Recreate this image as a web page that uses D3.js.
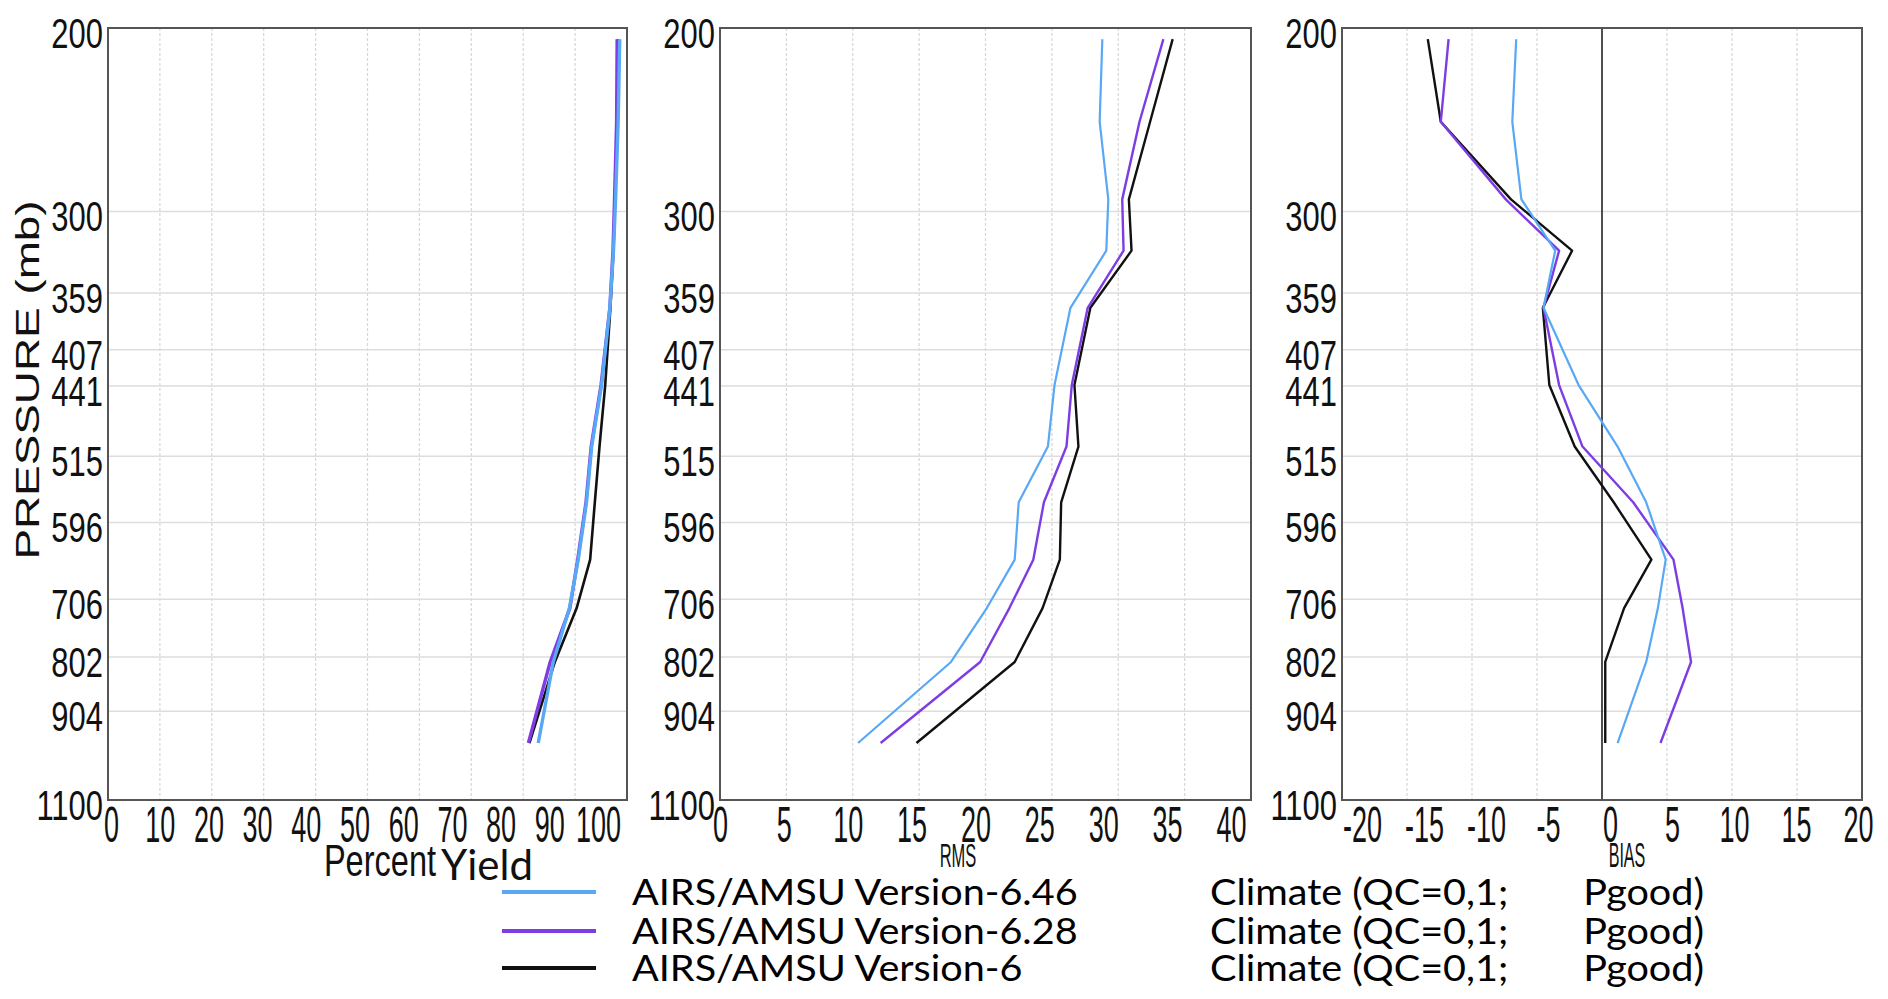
<!DOCTYPE html>
<html>
<head>
<meta charset="utf-8">
<script src="https://cdn.jsdelivr.net/npm/d3@7/dist/d3.min.js"></script>
<style>
  html, body { margin: 0; padding: 0; background: #fff; }
  svg { display: block; }
  .pre { white-space: pre; }
</style>
</head>
<body>
<script>
// ---------------- DATA ----------------
const levels = [205, 246, 292, 327, 371, 440, 504, 570, 647, 720, 811, 970];
const pressureTicks = [200, 300, 359, 407, 441, 515, 596, 706, 802, 904, 1100];

const seriesNames = ["AIRS/AMSU Version-6.46", "AIRS/AMSU Version-6.28", "AIRS/AMSU Version-6"];
const seriesQualA = "Climate (QC=0,1;   ";
const seriesQualB = "Pgood)";
const seriesColors = ["#58a8f6", "#7d3de2", "#111111"];

const yieldV646 = [98.6, 98.3, 97.8, 97.4, 96.7, 95.1, 93.2, 92.2, 90.6, 88.9, 85.8, 82.9];
const yieldV628 = [98.1, 98.0, 97.6, 97.3, 96.7, 95.0, 93.1, 92.1, 90.5, 89.0, 85.2, 81.0];
const yieldV6   = [98.3, 98.1, 97.7, 97.4, 96.8, 95.8, 94.7, 93.8, 92.9, 90.3, 86.1, 81.2];

const rmsV646 = [28.8, 28.6, 29.25, 29.1, 26.4, 25.2, 24.7, 22.5, 22.2, 20.1, 17.4, 10.4];
const rmsV628 = [33.4, 31.6, 30.3, 30.4, 27.7, 26.5, 26.1, 24.4, 23.6, 21.8, 19.6, 12.1];
const rmsV6   = [34.1, 32.4, 30.8, 31.0, 27.9, 26.7, 27.0, 25.7, 25.6, 24.3, 22.2, 14.8];

const biasV646 = [-6.6, -6.9, -6.2, -3.6, -4.5, -1.8, 1.2, 3.4, 4.9, 4.3, 3.4, 1.2];
const biasV628 = [-11.8, -12.4, -7.4, -3.3, -4.5, -3.3, -1.5, 2.4, 5.5, 6.2, 6.85, 4.5];
const biasV6   = [-13.4, -12.4, -7.0, -2.3, -4.55, -4.05, -2.1, 0.9, 3.8, 1.7, 0.25, 0.25];

const yieldTicks = [0, 10, 20, 30, 40, 50, 60, 70, 80, 90, 100];
const rmsTicks = [0, 5, 10, 15, 20, 25, 30, 35, 40];
const biasTicks = [-20, -15, -10, -5, 0, 5, 10, 15, 20];

// ---------------- LAYOUT ----------------
const W = 1888, H = 999;
const TOP = 28, BOTTOM = 800;
const chartFont = "'Liberation Sans', Arial, Helvetica, sans-serif";
const legendFont = "Lato, 'Open Sans', sans-serif";

const svg = d3.select("body").append("svg").attr("width", W).attr("height", H);
svg.append("rect").attr("width", W).attr("height", H).attr("fill", "#fff");

const y = d3.scaleLog().domain([200, 1100]).range([TOP, BOTTOM]);

const panels = [
  { x0: 108, x1: 627, lab: [111, 598], domain: [0, 100], ticks: yieldTicks, series: [yieldV6, yieldV628, yieldV646], widths: [2.6, 3.4, 3.4] },
  { x0: 720, x1: 1251, lab: [720, 1231], domain: [0, 40], ticks: rmsTicks, series: [rmsV6, rmsV628, rmsV646], widths: [2.4, 2.4, 2.2] },
  { x0: 1342, x1: 1862, lab: [1362, 1858], domain: [-20, 20], ticks: biasTicks, series: [biasV6, biasV628, biasV646], widths: [2.4, 2.4, 2.2], zero: true }
];
// series order in panel arrays: black, purple, blue  -> colors index
const colorOrder = [2, 1, 0];

function stext(g, x, yy, str, size, sx, anchor, family) {
  return g.append("text")
    .attr("transform", `translate(${x},${yy}) scale(${sx},1)`)
    .attr("text-anchor", anchor)
    .style("font-family", family)
    .style("font-size", size + "px")
    .attr("fill", "#111")
    .text(str);
}

panels.forEach((p) => {
  const x = d3.scaleLinear().domain(p.domain).range([p.x0, p.x1]);
  const xLab = d3.scaleLinear().domain(p.domain).range(p.lab);
  const g = svg.append("g");

  // vertical gridlines (dotted)
  g.selectAll(".vg").data(p.ticks.filter(t => t !== p.domain[0] && t !== p.domain[1] && !(p.zero && t === 0)))
    .join("line")
    .attr("x1", d => x(d)).attr("x2", d => x(d))
    .attr("y1", TOP).attr("y2", BOTTOM)
    .attr("stroke", "#d6d6d6").attr("stroke-width", 1.2).attr("stroke-dasharray", "3,2");

  // horizontal gridlines
  g.selectAll(".hg").data(pressureTicks.slice(1, -1))
    .join("line")
    .attr("x1", p.x0).attr("x2", p.x1)
    .attr("y1", d => y(d)).attr("y2", d => y(d))
    .attr("stroke", "#dddddd").attr("stroke-width", 1.5);

  if (p.zero) {
    g.append("line")
      .attr("x1", x(0)).attr("x2", x(0)).attr("y1", TOP).attr("y2", BOTTOM)
      .attr("stroke", "#222").attr("stroke-width", 1.6);
  }

  // lines
  const line = d3.line().x(d => x(d[0])).y(d => y(d[1]));
  p.series.forEach((vals, si) => {
    g.append("path")
      .datum(vals.map((v, i) => [v, levels[i]]))
      .attr("d", line)
      .attr("fill", "none")
      .attr("stroke", seriesColors[colorOrder[si]])
      .attr("stroke-width", p.widths[si])
      .attr("stroke-linejoin", "round");
  });

  // frame
  g.append("rect")
    .attr("x", p.x0).attr("y", TOP)
    .attr("width", p.x1 - p.x0).attr("height", BOTTOM - TOP)
    .attr("fill", "none").attr("stroke", "#555").attr("stroke-width", 2);

  // y axis (pressure labels)
  const yAxis = d3.axisLeft(y).tickValues(pressureTicks).tickFormat(d => String(d)).tickSize(0).tickPadding(0);
  const ya = svg.append("g").attr("transform", `translate(${p.x0},0)`).call(yAxis);
  ya.select(".domain").remove();
  ya.selectAll("text")
    .style("font-family", chartFont).style("font-size", "43px").attr("fill", "#111")
    .attr("x", null).attr("dy", "0.45em")
    .attr("transform", "translate(-5,0) scale(0.72,1)");

  // x axis (labels placed on a slightly compressed label scale, as in the original)
  const xAxis = d3.axisBottom(x).tickValues(p.ticks).tickFormat(d => String(d)).tickSize(0).tickPadding(6);
  const xa = svg.append("g").attr("transform", `translate(0,${BOTTOM})`).call(xAxis);
  xa.select(".domain").remove();
  xa.selectAll("text")
    .style("font-family", chartFont).style("font-size", "50px").attr("fill", "#111")
    .attr("transform", d => `translate(${xLab(d) - x(d)},0) scale(0.54,1)`);
});

// axis titles
stext(svg, 380, 876, "Percent", 44, 0.74, "middle", chartFont);
stext(svg, 441, 880, "Yield", 42, 1, "start", legendFont);
stext(svg, 958, 867, "RMS", 33, 0.5, "middle", chartFont);
stext(svg, 1627, 867, "BIAS", 35, 0.46, "middle", chartFont);

svg.append("text")
  .attr("transform", "translate(39,380) rotate(-90) scale(1.39,1)")
  .attr("text-anchor", "middle")
  .style("font-family", chartFont).style("font-size", "33px").attr("fill", "#111")
  .text("PRESSURE (mb)");

// legend
const legY = [892, 931, 968];
const LSX = 1.07;
const lg = svg.append("g");
seriesNames.forEach((name, i) => {
  lg.append("line")
    .attr("x1", 502).attr("x2", 596).attr("y1", legY[i]).attr("y2", legY[i])
    .attr("stroke", seriesColors[i]).attr("stroke-width", 4);
  lg.append("text")
    .attr("transform", `translate(632,${legY[i] + 13}) scale(${LSX},1)`)
    .style("font-family", legendFont).style("font-size", "37px").attr("fill", "#000")
    .text(name);
  const t = lg.append("text").attr("class", "pre")
    .attr("transform", `translate(1210,${legY[i] + 13}) scale(${LSX},1)`)
    .style("font-family", legendFont).style("font-size", "37px").attr("fill", "#000");
  t.append("tspan").text(seriesQualA);
  t.append("tspan").attr("x", (1704 - 1210) / LSX).attr("text-anchor", "end").text(seriesQualB);
});
</script>
</body>
</html>
